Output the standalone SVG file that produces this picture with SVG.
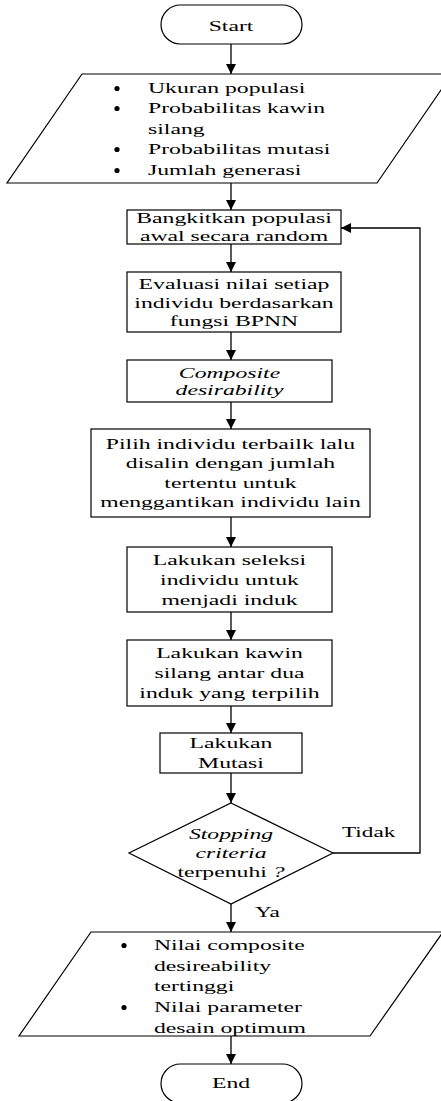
<svg xmlns="http://www.w3.org/2000/svg" width="441" height="1101" viewBox="0 0 441 1101">
  <style>
    .shape { fill: #ffffff; stroke: #000000; stroke-width: 1.2; }
    .wire { fill: none; stroke: #000000; stroke-width: 1.3; }
    text { font-family: "Liberation Serif", "Times New Roman", serif; font-size: 15px; fill: #000000; }
    .c { text-anchor: middle; }
    .i { font-style: italic; }
    .dot { fill: #000000; }
  </style>
  <defs>
    <marker id="arrow" viewBox="0 0 10 10" refX="10" refY="5" markerWidth="10" markerHeight="10" markerUnits="userSpaceOnUse" orient="auto">
      <path d="M0,0 L10,5 L0,10 z" fill="#000000"/>
    </marker>
  </defs>

  <rect width="441" height="1101" fill="#ffffff"/>

  <!-- connectors -->
  <g id="connectors">
    <line class="wire" x1="231" y1="44" x2="231" y2="74" marker-end="url(#arrow)"/>
    <line class="wire" x1="231" y1="183" x2="231" y2="210" marker-end="url(#arrow)"/>
    <line class="wire" x1="231" y1="244" x2="231" y2="272" marker-end="url(#arrow)"/>
    <line class="wire" x1="231" y1="332" x2="231" y2="360" marker-end="url(#arrow)"/>
    <line class="wire" x1="231" y1="402" x2="231" y2="429" marker-end="url(#arrow)"/>
    <line class="wire" x1="231" y1="517" x2="231" y2="547" marker-end="url(#arrow)"/>
    <line class="wire" x1="231" y1="612" x2="231" y2="640" marker-end="url(#arrow)"/>
    <line class="wire" x1="231" y1="706" x2="231" y2="733" marker-end="url(#arrow)"/>
    <line class="wire" x1="231" y1="773" x2="231" y2="803" marker-end="url(#arrow)"/>
    <line class="wire" x1="231" y1="904" x2="231" y2="932" marker-end="url(#arrow)"/>
    <line class="wire" x1="231" y1="1036" x2="231" y2="1064" marker-end="url(#arrow)"/>
    <polyline class="wire" points="333,853 420,853 420,228 341,228" marker-end="url(#arrow)"/>
    <text transform="translate(342 837) scale(1.55 1)">Tidak</text>
    <text transform="translate(255 917) scale(1.55 1)">Ya</text>
  </g>

  <!-- start terminal -->
  <g id="start">
    <rect class="shape" x="161" y="5" width="141" height="39" rx="19.5" ry="19.5"/>
    <text class="c" transform="translate(231 31) scale(1.58 1)">Start</text>
  </g>

  <!-- GA parameters input -->
  <g id="input-params">
    <polygon class="shape" points="82,74 452,74 377,183 7,183"/>
    <circle class="dot" cx="117" cy="88.5" r="2.6"/>
    <circle class="dot" cx="117" cy="108.5" r="2.6"/>
    <circle class="dot" cx="117" cy="149.5" r="2.6"/>
    <circle class="dot" cx="117" cy="170.5" r="2.6"/>
    <text transform="translate(148 93) scale(1.58 1)">Ukuran populasi</text>
    <text transform="translate(148 113) scale(1.58 1)">Probabilitas kawin</text>
    <text transform="translate(148 134) scale(1.58 1)">silang</text>
    <text transform="translate(148 154) scale(1.58 1)">Probabilitas mutasi</text>
    <text transform="translate(148 175) scale(1.58 1)">Jumlah generasi</text>
  </g>

  <g id="init-population">
    <rect class="shape" x="127" y="210" width="214" height="34"/>
    <text class="c" transform="translate(234 223) scale(1.58 1)">Bangkitkan populasi</text>
    <text class="c" transform="translate(234 241) scale(1.58 1)">awal secara random</text>
  </g>

  <g id="evaluate">
    <rect class="shape" x="127" y="272" width="214" height="60"/>
    <text class="c" transform="translate(234 289) scale(1.58 1)">Evaluasi nilai setiap</text>
    <text class="c" transform="translate(234 307.5) scale(1.58 1)">individu berdasarkan</text>
    <text class="c" transform="translate(234 326) scale(1.58 1)">fungsi BPNN</text>
  </g>

  <g id="desirability">
    <rect class="shape" x="127" y="360" width="205" height="42"/>
    <text class="c i" transform="translate(229.5 377.5) scale(1.58 1)">Composite</text>
    <text class="c i" transform="translate(229.5 395) scale(1.58 1)">desirability</text>
  </g>

  <g id="elitism">
    <rect class="shape" x="91" y="429" width="279" height="88"/>
    <text class="c" transform="translate(230.5 448.5) scale(1.58 1)">Pilih individu terbailk lalu</text>
    <text class="c" transform="translate(230.5 468) scale(1.58 1)">disalin dengan jumlah</text>
    <text class="c" transform="translate(230.5 487.5) scale(1.58 1)">tertentu untuk</text>
    <text class="c" transform="translate(230.5 506.5) scale(1.58 1)">menggantikan individu lain</text>
  </g>

  <g id="selection">
    <rect class="shape" x="127" y="547" width="205" height="65"/>
    <text class="c" transform="translate(229.5 565) scale(1.58 1)">Lakukan seleksi</text>
    <text class="c" transform="translate(229.5 585) scale(1.58 1)">individu untuk</text>
    <text class="c" transform="translate(229.5 605) scale(1.58 1)">menjadi induk</text>
  </g>

  <g id="crossover">
    <rect class="shape" x="127" y="640" width="205" height="66"/>
    <text class="c" transform="translate(229.5 658) scale(1.58 1)">Lakukan kawin</text>
    <text class="c" transform="translate(229.5 678) scale(1.58 1)">silang antar dua</text>
    <text class="c" transform="translate(229.5 698) scale(1.58 1)">induk yang terpilih</text>
  </g>

  <g id="mutation">
    <rect class="shape" x="160" y="733" width="142" height="40"/>
    <text class="c" transform="translate(231 748) scale(1.58 1)">Lakukan</text>
    <text class="c" transform="translate(231 768) scale(1.58 1)">Mutasi</text>
  </g>

  <g id="stop-check">
    <polygon class="shape" points="231,803 333,853 231,904 129,853"/>
    <text class="c i" transform="translate(231 839) scale(1.58 1)">Stopping</text>
    <text class="c i" transform="translate(231 858) scale(1.58 1)">criteria</text>
    <text class="c" transform="translate(231 877) scale(1.58 1)">terpenuhi <tspan class="i">?</tspan></text>
  </g>

  <g id="output-result">
    <polygon class="shape" points="91,932 443,932 370,1036 19,1036"/>
    <circle class="dot" cx="124" cy="945.5" r="2.6"/>
    <circle class="dot" cx="124" cy="1007.5" r="2.6"/>
    <text transform="translate(154 950) scale(1.58 1)">Nilai composite</text>
    <text transform="translate(154 970.5) scale(1.58 1)">desireability</text>
    <text transform="translate(154 991) scale(1.58 1)">tertinggi</text>
    <text transform="translate(154 1012) scale(1.58 1)">Nilai parameter</text>
    <text transform="translate(154 1033) scale(1.58 1)">desain optimum</text>
  </g>

  <g id="end">
    <rect class="shape" x="161" y="1064" width="141" height="39" rx="19.5" ry="19.5"/>
    <text class="c" transform="translate(231 1088) scale(1.58 1)">End</text>
  </g>
</svg>
